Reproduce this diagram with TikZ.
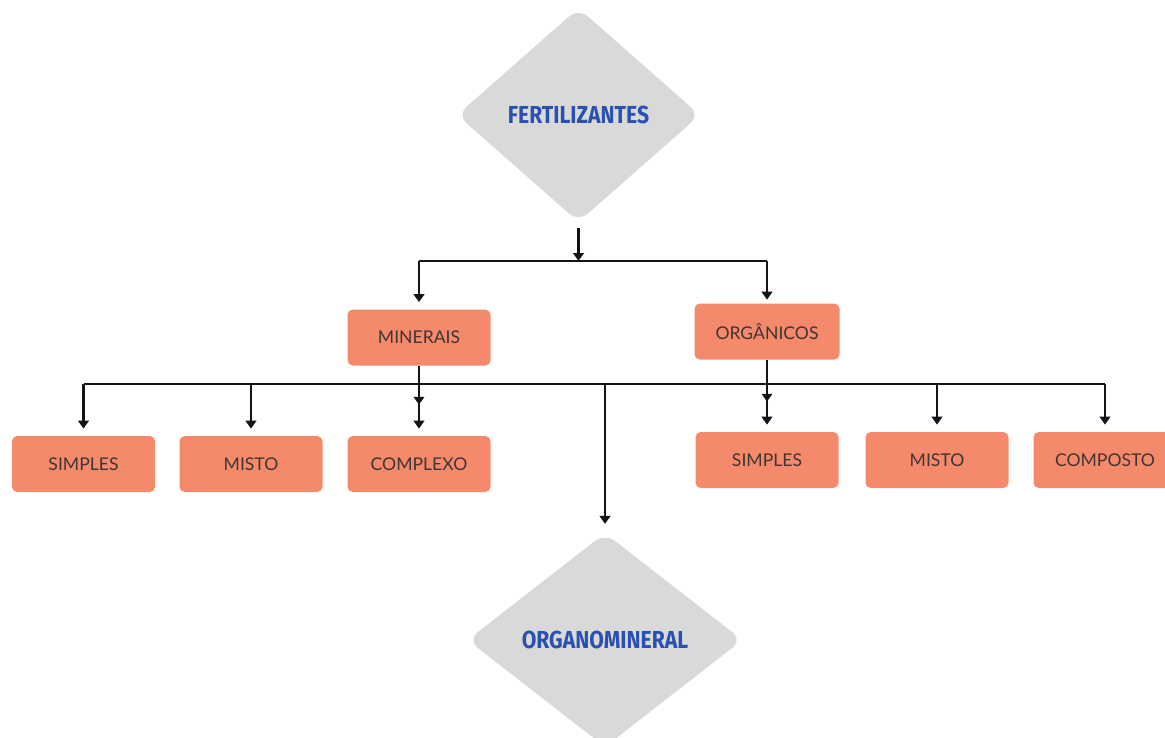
\documentclass[tikz,border=0pt]{standalone}
\usepackage{fontspec}
\setmainfont{Lato}
\newfontfamily\titlefont[FakeStretch=0.86]{Fira Sans}
\usetikzlibrary{shapes.geometric, arrows.meta, positioning, calc}
\definecolor{boxsalmon}{RGB}{244, 137, 107}
\definecolor{diamondgray}{RGB}{217, 217, 217}
\definecolor{titleblue}{RGB}{42, 80, 176}
\definecolor{labelgray}{RGB}{64, 52, 52}
\definecolor{arrowcolor}{RGB}{20, 20, 20}
\tikzset{
    category/.style={
        rectangle,
        rounded corners=3pt,
        minimum width=2.86cm,
        minimum height=1.12cm,
        text centered,
        fill=boxsalmon,
        text=labelgray,
        font=\fontsize{10}{12}\selectfont
    },
    topic/.style={
        diamond,
        rounded corners=7pt,
        inner sep=0pt,
        fill=diamondgray,
        text=titleblue,
        font=\titlefont\bfseries\fontsize{14}{16}\selectfont
    },
    arrow/.style={
        line width=1.5pt,
        -{Triangle[length=4.5pt,width=6pt]},
        color=arrowcolor
    },
    line/.style={
        line width=1.5pt,
        color=arrowcolor
    }
}
\begin{document}
\begin{tikzpicture}
    \useasboundingbox (0,0) rectangle (23.30,-14.74);

    % Define main nodes
    \node (fertilizantes) [topic, minimum width=4.86cm, minimum height=4.28cm] at (11.57,-2.30) {FERTILIZANTES};
    \node (minerais) [category] at (8.38,-6.75) {MINERAIS};
    \node (organicos) [category, minimum width=2.90cm] at (15.34,-6.63) {ORGÂNICOS};

    % Define second row nodes
    \node (simplesM) [category] at (1.67,-9.28) {SIMPLES};
    \node (mistoM) [category] at (5.02,-9.28) {MISTO};
    \node (complexo) [category] at (8.38,-9.28) {COMPLEXO};
    \node (simplesO) [category] at (15.34,-9.20) {SIMPLES};
    \node (mistoO) [category] at (18.74,-9.20) {MISTO};
    \node (composto) [category] at (22.10,-9.20) {COMPOSTO};
    \node (organomineral) [topic, minimum width=5.50cm, minimum height=4.28cm] at (12.10,-12.80) {ORGANOMINERAL};

    % Define junction points
    \coordinate (splitA) at (11.60,-5.22);
    \coordinate (splitB) at (12.08,-7.68);

    % Draw first level arrows
    \draw [arrow, shorten <=3pt] (fertilizantes.south) -- (fertilizantes.south |- splitA);
    \draw [line] (minerais.north |- splitA) -- (organicos.north |- splitA);
    \draw [arrow, shorten >=4pt] (minerais.north |- splitA) -- (minerais.north);
    \draw [arrow, shorten >=2pt] (organicos.north |- splitA) -- (organicos.north);

    % Draw second level arrows
    \draw [line] (simplesM.north |- splitB) -- (composto.north |- splitB);
    \foreach \target in {simplesM, mistoM, complexo, simplesO, mistoO, composto}
        \draw [arrow, shorten >=4pt] (\target.north |- splitB) -- (\target.north);
    \draw [arrow, shorten >=0.62cm] (minerais.south) -- (complexo.north);
    \draw [arrow, shorten >=0.60cm] (organicos.south) -- (simplesO.north);
    \draw [arrow, shorten >=5pt] (organomineral.north |- splitB) -- (organomineral.north);

\end{tikzpicture}
\end{document}
